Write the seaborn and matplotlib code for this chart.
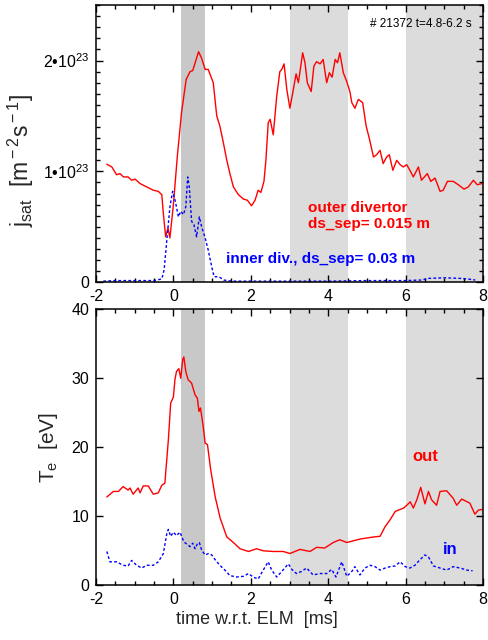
import numpy as np
import pandas as pd
import matplotlib
matplotlib.use("Agg")
import matplotlib.pyplot as plt
import seaborn as sns
from matplotlib.ticker import MultipleLocator, FixedLocator

# ---------------- data ----------------
# outer divertor j_sat (units of 1e23 m^-2 s^-1)
t_jout = [-1.72, -1.59, -1.47, -1.38, -1.29, -1.17, -1.08, -0.99, -0.86, -0.69,
          -0.52, -0.39, -0.30, -0.26, -0.20, -0.14, -0.09, 0.00, 0.10, 0.21,
          0.33, 0.43, 0.50, 0.58, 0.65, 0.73, 0.82, 0.90, 1.03, 1.12,
          1.20, 1.29, 1.38, 1.46, 1.55, 1.68, 1.81, 1.91, 2.02, 2.11,
          2.19, 2.26, 2.34, 2.39, 2.45, 2.50, 2.58, 2.67, 2.75, 2.80,
          2.86, 2.93, 3.01, 3.10, 3.17, 3.23, 3.34, 3.40, 3.46, 3.56,
          3.63, 3.70, 3.79, 3.87, 3.96, 4.03, 4.10, 4.18, 4.24, 4.30,
          4.39, 4.48, 4.56, 4.61, 4.69, 4.78, 4.89, 4.98, 5.06, 5.17,
          5.25, 5.34, 5.42, 5.51, 5.58, 5.67, 5.77, 5.86, 5.94, 6.03,
          6.11, 6.20, 6.33, 6.41, 6.56, 6.65, 6.76, 6.89, 6.97, 7.08,
          7.23, 7.36, 7.51, 7.62, 7.75, 7.85, 7.97]
j_out = [1.065, 1.04, 0.97, 0.98, 0.95, 0.95, 0.92, 0.93, 0.89, 0.86,
         0.83, 0.82, 0.79, 0.62, 0.41, 0.49, 0.40, 0.70, 1.13, 1.53,
         1.83, 1.90, 1.91, 2.00, 2.08, 2.02, 1.92, 1.92, 1.80, 1.50,
         1.41, 1.26, 1.10, 0.98, 0.86, 0.79, 0.75, 0.74, 0.69, 0.74,
         0.83, 0.81, 0.91, 1.10, 1.44, 1.47, 1.33, 1.68, 1.90, 1.92,
         1.97, 1.74, 1.57, 1.74, 1.88, 1.80, 2.07, 1.98, 1.80, 1.72,
         1.95, 1.99, 1.97, 2.01, 1.80, 1.89, 1.85, 2.01, 1.98, 2.07,
         1.89, 1.81, 1.72, 1.62, 1.57, 1.65, 1.62, 1.41, 1.30, 1.13,
         1.15, 1.19, 1.07, 1.13, 1.15, 1.01, 1.10, 1.06, 1.04, 1.06,
         1.01, 0.95, 1.04, 0.92, 0.98, 0.91, 0.94, 0.82, 0.83, 0.91,
         0.91, 0.88, 0.84, 0.86, 0.92, 0.88, 0.89]

# inner divertor j_sat (units of 1e23 m^-2 s^-1)
t_jin = [-1.81, -1.50, -1.00, -0.50, -0.30, -0.24, -0.17, -0.09, -0.02, 0.05,
         0.13, 0.19, 0.26, 0.32, 0.37, 0.41, 0.47, 0.53, 0.60, 0.67,
         0.73, 0.82, 0.90, 0.99, 1.05, 1.16, 1.22, 1.30, 1.50, 2.00,
         3.00, 4.00, 5.00, 6.00, 6.40, 6.60, 7.00, 7.40, 7.60, 7.80]
j_in = [0.01, 0.015, 0.015, 0.015, 0.03, 0.11, 0.38, 0.68, 0.82, 0.73,
        0.59, 0.64, 0.61, 0.68, 0.95, 0.86, 0.55, 0.52, 0.41, 0.59,
        0.50, 0.40, 0.29, 0.14, 0.05, 0.05, 0.04, 0.02, 0.01, 0.01,
        0.01, 0.01, 0.015, 0.015, 0.02, 0.035, 0.04, 0.035, 0.03, 0.02]

# outer divertor T_e (eV)
t_teout = [-1.72, -1.55, -1.42, -1.30, -1.17, -1.12, -1.04, -0.91, -0.86, -0.78,
           -0.65, -0.52, -0.39, -0.30, -0.22, -0.13, -0.07, 0.00, 0.04, 0.08,
           0.14, 0.19, 0.24, 0.27, 0.32, 0.38, 0.47, 0.56, 0.62, 0.66,
           0.70, 0.77, 0.82, 0.88, 0.96, 1.08, 1.21, 1.38, 1.55, 1.72,
           1.94, 2.15, 2.32, 2.58, 2.84, 3.01, 3.27, 3.53, 3.70, 3.91,
           4.13, 4.30, 4.48, 4.82, 5.17, 5.34, 5.47, 5.60, 5.73, 5.86,
           5.95, 6.03, 6.12, 6.20, 6.29, 6.39, 6.50, 6.59, 6.67, 6.80,
           6.89, 7.06, 7.23, 7.32, 7.45, 7.66, 7.79, 7.88, 7.99]
te_out = [12.8, 13.6, 13.6, 14.3, 13.8, 14.1, 13.2, 14.1, 13.4, 14.4,
          14.4, 13.2, 13.4, 14.5, 14.8, 21.1, 26.4, 27.3, 29.8, 31.0,
          31.4, 30.0, 32.7, 33.1, 31.0, 29.8, 29.3, 27.6, 27.1, 25.2,
          25.7, 23.0, 20.6, 20.4, 16.9, 12.8, 9.7, 7.0, 6.2, 5.3,
          4.9, 5.3, 5.0, 4.9, 4.9, 4.6, 5.2, 4.9, 5.5, 5.4,
          6.2, 6.6, 6.2, 6.7, 7.0, 7.1, 8.5, 9.5, 10.7, 11.0,
          11.2, 11.6, 12.1, 11.2, 12.4, 14.2, 11.8, 13.6, 12.4, 11.6,
          13.6, 13.7, 12.6, 11.6, 12.5, 11.9, 10.3, 10.9, 11.0]

# inner divertor T_e (eV)
t_tein = [-1.72, -1.64, -1.47, -1.30, -1.17, -1.08, -0.95, -0.82, -0.69, -0.52,
          -0.39, -0.26, -0.17, -0.13, -0.07, 0.00, 0.08, 0.17, 0.27, 0.34,
          0.43, 0.50, 0.56, 0.62, 0.67, 0.73, 0.82, 0.91, 0.99, 1.08,
          1.20, 1.33, 1.46, 1.64, 1.81, 1.94, 2.06, 2.19, 2.32, 2.45,
          2.54, 2.67, 2.80, 2.97, 3.06, 3.18, 3.31, 3.44, 3.61, 3.79,
          3.96, 4.09, 4.20, 4.35, 4.48, 4.61, 4.69, 4.82, 4.95, 5.08,
          5.21, 5.34, 5.47, 5.60, 5.73, 5.86, 5.99, 6.11, 6.24, 6.37,
          6.50, 6.59, 6.72, 6.89, 7.06, 7.23, 7.41, 7.58, 7.73]
te_in = [4.9, 3.4, 3.4, 2.9, 2.8, 3.6, 2.9, 2.5, 2.9, 2.9,
         3.4, 4.6, 7.5, 8.1, 7.1, 7.7, 7.2, 7.7, 6.3, 6.0,
         5.6, 6.1, 5.3, 6.0, 6.2, 5.1, 4.4, 4.6, 4.4, 3.7,
         2.9, 2.2, 1.4, 1.2, 1.3, 1.7, 1.2, 0.9, 2.2, 3.4,
         2.2, 1.2, 2.0, 3.1, 2.3, 1.7, 2.0, 2.5, 1.5, 1.7,
         1.7, 2.3, 1.2, 3.4, 1.3, 2.0, 2.7, 1.5, 2.5, 2.9,
         2.7, 2.2, 2.5, 2.7, 2.8, 3.4, 2.7, 2.5, 2.9, 3.7,
         4.4, 4.1, 2.8, 2.5, 2.2, 2.7, 2.5, 2.2, 2.1]

# shaded time windows (ms)
dark_window = [0.2, 0.82]
light_windows = [[3.0, 4.5], [6.0, 8.0]]

x_ticks = [-2, 0, 2, 4, 6, 8]
jsat_ticks = [0, 1, 2]
jsat_ticklabels = ["0", "1\u2022$10^{23}$", "2\u2022$10^{23}$"]
te_ticks = [0, 10, 20, 30, 40]

# ---------------- style ----------------
sns.set_theme(style="white")
plt.rcParams["font.family"] = ["Liberation Sans", "DejaVu Sans"]
plt.rcParams["mathtext.fontset"] = "custom"
plt.rcParams["mathtext.rm"] = "Liberation Sans"
plt.rcParams["mathtext.it"] = "Liberation Sans"
plt.rcParams["mathtext.bf"] = "Liberation Sans:bold"
plt.rcParams["axes.unicode_minus"] = False

RED = "#ff0000"
BLUE = "#0000ff"
DARK = "#c8c8c8"
LIGHT = "#dcdcdc"

fig = plt.figure(figsize=(4.88, 6.40), dpi=100)
ax1 = fig.add_axes([0.1967, 0.559, 0.7931, 0.433])
ax2 = fig.add_axes([0.1967, 0.0855, 0.7931, 0.4312])


def style_axis(ax):
    ax.axvspan(*dark_window, color=DARK, lw=0, zorder=0)
    for w in light_windows:
        ax.axvspan(*w, color=LIGHT, lw=0, zorder=0)
    ax.set_xlim(-2, 8)
    ax.xaxis.set_major_locator(FixedLocator(x_ticks))
    ax.xaxis.set_minor_locator(MultipleLocator(0.5))
    ax.tick_params(which="both", direction="in", top=True, right=True,
                   bottom=True, left=True, colors="black", labelsize=11.5,
                   width=1.0, pad=5)
    ax.tick_params(which="major", length=5)
    ax.tick_params(which="minor", length=3)
    for s in ax.spines.values():
        s.set_color("black")
        s.set_linewidth(1.1)
    ax.set_facecolor("white")


# top panel
df_jo = pd.DataFrame({"t": t_jout, "v": j_out})
df_ji = pd.DataFrame({"t": t_jin, "v": j_in})
sns.lineplot(data=df_jo, x="t", y="v", ax=ax1, color=RED, lw=1.0,
             estimator=None, sort=False)
sns.lineplot(data=df_ji, x="t", y="v", ax=ax1, color=BLUE, lw=1.0,
             estimator=None, sort=False, linestyle=(0, (2, 1.6)))
style_axis(ax1)
ax1.set_ylim(0, 2.5)
ax1.yaxis.set_major_locator(FixedLocator(jsat_ticks))
ax1.set_yticklabels(jsat_ticklabels)
ax1.yaxis.set_minor_locator(MultipleLocator(0.1))
ax1.set_xlabel("")
ax1.set_ylabel(r"j$_{\rm sat}$  [m$^{\rm -2}$s$^{\rm -1}$]", fontsize=16.5)
ax1.yaxis.set_label_coords(-0.155, 0.44)
ax1.text(0.971, 0.931, "# 21372 t=4.8-6.2 s", transform=ax1.transAxes,
         ha="right", va="center", fontsize=8.5, color="black")
ax1.text(3.49, 0.60, "outer divertor\nds_sep= 0.015 m", color=RED,
         fontsize=11, fontweight="bold", ha="left", va="center",
         linespacing=1.15)
ax1.text(1.36, 0.21, "inner div., ds_sep= 0.03 m", color=BLUE,
         fontsize=11, fontweight="bold", ha="left", va="center")

# bottom panel
df_to = pd.DataFrame({"t": t_teout, "v": te_out})
df_ti = pd.DataFrame({"t": t_tein, "v": te_in})
sns.lineplot(data=df_to, x="t", y="v", ax=ax2, color=RED, lw=1.0,
             estimator=None, sort=False)
sns.lineplot(data=df_ti, x="t", y="v", ax=ax2, color=BLUE, lw=1.0,
             estimator=None, sort=False, linestyle=(0, (2, 1.6)))
style_axis(ax2)
ax2.set_ylim(0, 40)
ax2.yaxis.set_major_locator(FixedLocator(te_ticks))
ax2.yaxis.set_minor_locator(FixedLocator([]))
ax2.set_xlabel("time w.r.t. ELM  [ms]", fontsize=13)
ax2.xaxis.set_label_coords(0.416, -0.095)
ax2.set_ylabel(r"T$_{\rm e}$  [eV]", fontsize=15, labelpad=8)
ax2.text(6.18, 18.6, "out", color=RED, fontsize=12, fontweight="bold",
         ha="left", va="center")
ax2.text(6.97, 5.2, "in", color=BLUE, fontsize=12, fontweight="bold",
         ha="left", va="center")

fig.savefig("out.png", dpi=100)
